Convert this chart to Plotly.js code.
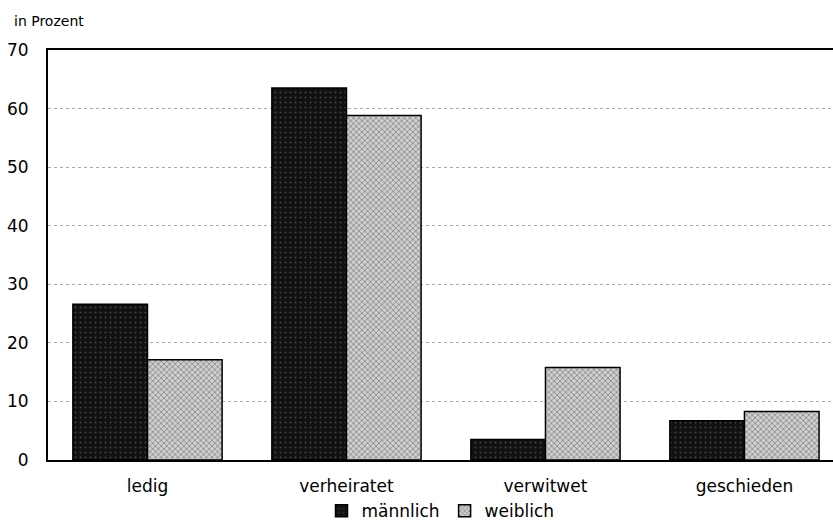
<!DOCTYPE html>
<html>
<head>
<meta charset="utf-8">
<script src="https://cdn.plot.ly/plotly-3.0.1.min.js"></script>
<style>html,body{margin:0;padding:0;background:#fff;}#chart{width:833px;height:525px;}</style>
</head>
<body>
<div id="chart"></div>
<script>
const categories = ["ledig", "verheiratet", "verwitwet", "geschieden"];
const maennlich = [26.6, 63.5, 3.5, 6.7];
const weiblich = [17.1, 58.8, 15.8, 8.3];
const seriesNames = ["männlich", "weiblich"];
const yTicks = [0, 10, 20, 30, 40, 50, 60, 70];

const font = "DejaVu Sans, Liberation Sans, Arial, sans-serif";

const traces = [
  {
    type: "bar", name: seriesNames[0], x: categories, y: maennlich,
    marker: {
      color: "#111",
      line: {color: "#000", width: 1.5},
      pattern: {shape: ".", bgcolor: "#111", fgcolor: "#777", size: 5, solidity: 0.12, fillmode: "overlay"}
    }
  },
  {
    type: "bar", name: seriesNames[1], x: categories, y: weiblich,
    marker: {
      color: "#c4c4c4",
      line: {color: "#000", width: 1.5},
      pattern: {shape: "x", bgcolor: "#cfcfcf", fgcolor: "#4a4a4a", size: 4, solidity: 0.4, fillmode: "overlay"}
    }
  }
];

const layout = {
  width: 833, height: 525,
  margin: {l: 48, r: 0, t: 50, b: 65, autoexpand: false},
  paper_bgcolor: "#fff", plot_bgcolor: "#fff",
  font: {family: font, color: "#000", size: 16},
  barmode: "group", bargap: 0.25, bargroupgap: 0,
  showlegend: true,
  legend: {
    orientation: "h", x: 0.5, xanchor: "center", y: -0.125, yanchor: "middle",
    font: {family: font, size: 17, color: "#000"}, itemwidth: 30, tracegroupgap: 0
  },
  xaxis: {
    type: "category", range: [-0.5, 3.445], automargin: false,
    showline: true, linecolor: "#000", linewidth: 2, mirror: true,
    ticks: "outside", ticklen: 10, tickcolor: "rgba(0,0,0,0)",
    showgrid: false, tickfont: {family: font, size: 17}
  },
  yaxis: {
    range: [0, 70], tickvals: yTicks, ticktext: yTicks.map(String), automargin: false,
    showline: true, linecolor: "#000", linewidth: 2,
    ticks: "outside", ticklen: 14, tickcolor: "rgba(0,0,0,0)",
    showgrid: true, gridcolor: "#aaa", gridwidth: 1, griddash: "dot",
    zeroline: false, tickfont: {family: font, size: 17}
  },
  annotations: [{
    text: "in Prozent", xref: "paper", yref: "paper",
    x: -0.0459, xanchor: "left", y: 1.0707, yanchor: "middle",
    showarrow: false, font: {family: font, size: 14, color: "#000"}
  }]
};

Plotly.newPlot("chart", traces, layout, {displayModeBar: false, staticPlot: true});
</script>
</body>
</html>
